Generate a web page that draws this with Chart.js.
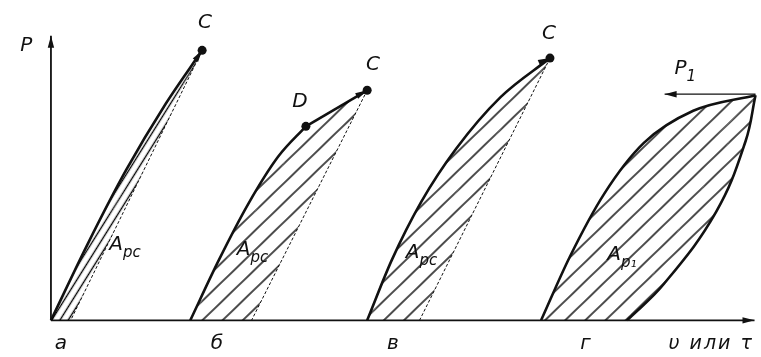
<!DOCTYPE html>
<html>
<head>
<meta charset="utf-8">
<script src="https://cdn.jsdelivr.net/npm/chart.js@4.4.1/dist/chart.umd.min.js"></script>
<style>
  html, body { margin: 0; padding: 0; background: #fff; }
  #diagram { display: block; }
</style>
</head>
<body>
<canvas id="diagram" width="761" height="357"></canvas>
<script>
// Диаграммы нагрузка-перемещение (условные единицы: x — перемещение, y — нагрузка)
const axisX = [[0, 0], [712, 0]];
const axisY = [[0, 0], [0, 292]];

// а — до точки C
const loadA = [[0, 0], [38, 80], [76, 154], [116, 222], [153, 277]];
const unloadA = [[153, 277], [20, 0]];

// б — с точкой D
const loadB = [[141, 0], [170, 62], [200, 120], [230, 168], [258, 199]];
const segmentDC = [[258, 199], [320, 236]];
const unloadB = [[320, 236], [203, 0]];

// в
const loadV = [[320, 0], [345, 62], [375, 122], [410, 176], [455, 229], [505, 269]];
const unloadV = [[505, 269], [373, 0]];

// г — петля нагрузка/разгрузка
const loadG = [[496, 0], [525, 65], [560, 130], [600, 182], [650, 215], [713, 231]];
const unloadG = [[713, 231], [703, 184], [673, 111], [620, 37], [583, 0]];

const pointsC = [[153, 277], [320, 236], [505, 269]];
const pointD = [[258, 199]];

// стрелки: [откуда, куда]
const arrows = [
  [[0, 0], [712, 0]],
  [[0, 0], [0, 292]],
  [[143, 262], [153, 277]],
  [[311, 231], [320, 236]],
  [[494, 264], [505, 269]],
  [[713, 232], [621, 232]]
];

// подписи: [текст, индекс, x, y]
const labels = [
  ["P", "", -25, 282],
  ["C", "", 156, 305],
  ["C", "", 326, 262],
  ["D", "", 252, 224],
  ["C", "", 504, 294],
  ["P", "1", 637, 258],
  ["а", "", 10, -24],
  ["б", "", 168, -24],
  ["в", "", 346, -24],
  ["г", "", 541, -24],
  ["A", "рс", 66, 77],
  ["A", "рс", 195, 72],
  ["A", "рс", 366, 69],
  ["A", "р₁", 570, 67]
];
const axisTitle = ["υ или τ", 625, -24];

function toXY(arr) {
  return arr.map(p => ({ x: p[0], y: p[1] }));
}

// штриховка
function makeHatch(angle, spacing) {
  const tile = document.createElement("canvas");
  tile.width = spacing;
  tile.height = spacing;
  const t = tile.getContext("2d");
  t.strokeStyle = "#000";
  t.lineWidth = 1.4;
  t.beginPath();
  t.moveTo(0, spacing / 2);
  t.lineTo(spacing, spacing / 2);
  t.stroke();
  const pattern = t.createPattern(tile, "repeat");
  pattern.setTransform(new DOMMatrix().rotateSelf(angle));
  return pattern;
}
const hatchSteep = makeHatch(-58, 7);
const hatch = makeHatch(-44, 14);

// заштрихованный многоугольник (прямые участки)
function area(data, pattern) {
  return {
    data: toXY(data),
    showLine: true,
    fill: "shape",
    backgroundColor: pattern,
    borderWidth: 0,
    pointRadius: 0,
    tension: 0
  };
}
// основная кривая; pattern — штриховка между кривой и её хордой
function curve(data, width, pattern, tension) {
  const ds = {
    data: toXY(data),
    showLine: true,
    fill: pattern ? "shape" : false,
    backgroundColor: pattern || "transparent",
    borderColor: "#111",
    borderWidth: width,
    pointRadius: 0,
    clip: false
  };
  if (tension) {
    ds.tension = tension;
  } else {
    ds.cubicInterpolationMode = "monotone";
  }
  return ds;
}
function line(data, width, dash) {
  return {
    data: toXY(data),
    showLine: true,
    fill: false,
    borderColor: "#111",
    borderWidth: width,
    borderDash: dash || [],
    pointRadius: 0,
    tension: 0,
    clip: false
  };
}

const annotations = {
  id: "annotations",
  afterDatasetsDraw(chart) {
    const ctx = chart.ctx;
    const sx = chart.scales.x;
    const sy = chart.scales.y;
    ctx.save();
    ctx.fillStyle = "#111";
    arrows.forEach(a => {
      const x0 = sx.getPixelForValue(a[0][0]);
      const y0 = sy.getPixelForValue(a[0][1]);
      const x1 = sx.getPixelForValue(a[1][0]);
      const y1 = sy.getPixelForValue(a[1][1]);
      const ang = Math.atan2(y1 - y0, x1 - x0);
      const len = 12, half = 3.2;
      ctx.beginPath();
      ctx.moveTo(x1, y1);
      ctx.lineTo(x1 - len * Math.cos(ang) - half * Math.sin(ang), y1 - len * Math.sin(ang) + half * Math.cos(ang));
      ctx.lineTo(x1 - len * Math.cos(ang) + half * Math.sin(ang), y1 - len * Math.sin(ang) - half * Math.cos(ang));
      ctx.closePath();
      ctx.fill();
    });
    ctx.textBaseline = "middle";
    labels.forEach(l => {
      const x = sx.getPixelForValue(l[2]);
      const y = sy.getPixelForValue(l[3]);
      ctx.font = "italic 20px 'DejaVu Sans'";
      ctx.textAlign = "center";
      ctx.fillText(l[0], x, y);
      if (l[1]) {
        const w = ctx.measureText(l[0]).width;
        ctx.font = "italic 15px 'DejaVu Sans'";
        ctx.textAlign = "left";
        ctx.fillText(l[1], x + w / 2, y + 8);
      }
    });
    ctx.font = "italic 19px 'DejaVu Sans'";
    ctx.letterSpacing = "2px";
    ctx.textAlign = "left";
    ctx.fillText(axisTitle[0], sx.getPixelForValue(axisTitle[1]), sy.getPixelForValue(axisTitle[2]));
    ctx.restore();
  }
};

new Chart(document.getElementById("diagram"), {
  type: "scatter",
  data: {
    datasets: [
      area([loadA[0], unloadA[1], unloadA[0]], hatchSteep),
      area([loadB[0], loadB[loadB.length - 1], segmentDC[1], unloadB[1]], hatch),
      area([loadV[0], unloadV[0], unloadV[1]], hatch),
      area([loadG[0], loadG[loadG.length - 1], unloadG[unloadG.length - 1]], hatch),
      line(axisX, 1.8),
      line(axisY, 1.8),
      curve(loadA, 2.6, hatchSteep),
      line(unloadA, 1, [3, 2]),
      curve(loadB, 2.6, hatch),
      line(segmentDC, 2.6),
      line(unloadB, 1, [3, 2]),
      curve(loadV, 2.6, hatch),
      line(unloadV, 1, [3, 2]),
      curve(loadG, 2.6, hatch),
      curve(unloadG, 2.6, hatch, 0.4),
      line([arrows[5][0], arrows[5][1]], 1.2),
      {
        data: toXY(pointsC.concat(pointD)),
        pointRadius: 4.5,
        pointBackgroundColor: "#111",
        pointBorderWidth: 0,
        clip: false
      }
    ]
  },
  options: {
    responsive: false,
    animation: false,
    events: [],
    layout: { padding: 0 },
    plugins: {
      legend: { display: false },
      tooltip: { enabled: false }
    },
    scales: {
      x: { type: "linear", min: -47, max: 714, display: false },
      y: { type: "linear", min: -33, max: 324, display: false }
    }
  },
  plugins: [annotations]
});
</script>
</body>
</html>
